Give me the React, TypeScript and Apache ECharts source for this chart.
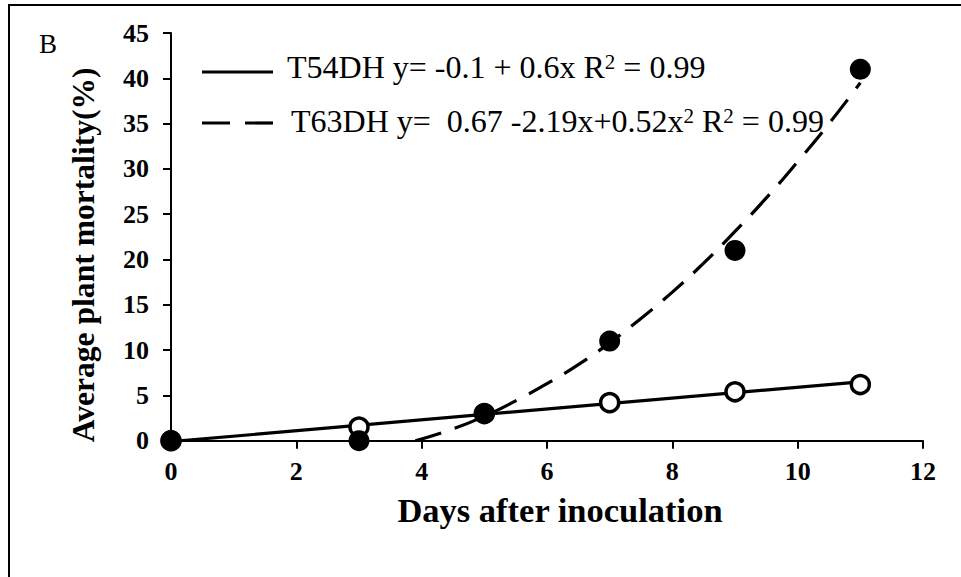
import React, { useEffect, useRef } from "react";
import * as echarts from "echarts";

// ---- data ----
const xTicks = [0, 2, 4, 6, 8, 10, 12];
const yTicks = [0, 5, 10, 15, 20, 25, 30, 35, 40, 45];
const t54Points: [number, number][] = [[0, 0], [3, 1.5], [5, 3], [7, 4.2], [9, 5.4], [11, 6.2]];
const t63Points: [number, number][] = [[0, 0], [3, 0], [5, 3], [7, 11], [9, 21], [11, 41]];
const t54Trend: [number, number][] = [[0, -0.1], [11, 6.5]];
const t63Trend: [number, number][] = [
  [3.9, 0], [4.5, 1.3], [5, 2.7], [5.5, 4.4], [6, 6.3], [6.5, 8.4], [7, 10.8], [7.5, 13.5],
  [8, 16.4], [8.5, 19.6], [9, 23.1], [9.5, 26.8], [10, 30.8], [10.5, 35.0], [11, 39.5],
];
const legendLabels = [
  "{n|T54DH y= -0.1 + 0.6x R}{sup|2}{n| = 0.99}",
  "{n|T63DH y=  0.67 -2.19x+0.52x}{sup|2}{n| R}{sup|2}{n| = 0.99}",
];
const panelLabel = "B";
const xName = "Days after inoculation";
const yName = "Average plant mortality(%)";

const SERIF = "Liberation Serif";

export default function App() {
  const ref = useRef<HTMLDivElement>(null);
  useEffect(() => {
    document.body.style.margin = "0";
    const chart = echarts.init(ref.current!, null, { renderer: "svg" });
    const dash = [27, 14];
    const legendText = (t: string, x: number, y: number) => ({
      type: "text",
      left: x,
      top: y,
      style: {
        text: t,
        fontFamily: SERIF,
        fontSize: 32,
        fill: "#000",
        rich: {
          n: { fontSize: 32, fontFamily: SERIF, fill: "#000" },
          sup: { fontSize: 21, fontFamily: SERIF, verticalAlign: "top", fill: "#000" },
        },
      },
    });
    chart.setOption({
      animation: false,
      backgroundColor: "#fff",
      grid: { left: 171, right: 38, top: 33, bottom: 136.3, containLabel: false },
      xAxis: {
        type: "value",
        min: 0,
        max: 12,
        interval: 2,
        name: xName,
        nameLocation: "middle",
        nameGap: 52,
        nameTextStyle: { fontFamily: SERIF, fontWeight: "bold", fontSize: 34.5, color: "#000", padding: [0, 0, 0, 26], verticalAlign: "top" },
        axisLine: { lineStyle: { color: "#000", width: 2 } },
        axisTick: { show: true, inside: false, length: 8, lineStyle: { color: "#000", width: 2 } },
        axisLabel: { fontFamily: SERIF, fontWeight: "bold", fontSize: 26, color: "#000", margin: 18, formatter: (v: number) => (xTicks.includes(v) ? String(v) : "") },
        splitLine: { show: false },
      },
      yAxis: {
        type: "value",
        min: 0,
        max: 45,
        interval: 5,
        name: yName,
        nameLocation: "middle",
        nameGap: 72,
        nameRotate: 90,
        nameTextStyle: { fontFamily: SERIF, fontWeight: "bold", fontSize: 31.6, color: "#000", padding: [0, 36, 0, 0] },
        axisLine: { show: true, lineStyle: { color: "#000", width: 2 } },
        axisTick: { show: true, inside: false, length: 8, lineStyle: { color: "#000", width: 2 } },
        axisLabel: { fontFamily: SERIF, fontWeight: "bold", fontSize: 26, color: "#000", margin: 22, formatter: (v: number) => (yTicks.includes(v) ? String(v) : "") },
        splitLine: { show: false },
      },
      series: [
        {
          type: "line",
          data: t54Trend,
          symbol: "none",
          lineStyle: { color: "#000", width: 3.2 },
          z: 2,
        },
        {
          type: "line",
          data: t63Trend,
          symbol: "none",
          smooth: true,
          lineStyle: { color: "#000", width: 3.2, type: dash },
          z: 2,
        },
        {
          type: "scatter",
          data: t54Points,
          symbol: "circle",
          symbolSize: 18,
          itemStyle: { color: "#fff", borderColor: "#000", borderWidth: 3.5, opacity: 1 },
          z: 3,
        },
        {
          type: "scatter",
          data: t63Points,
          symbol: "circle",
          symbolSize: 21,
          itemStyle: { color: "#000", borderColor: "#000", borderWidth: 0, opacity: 1 },
          z: 4,
        },
      ],
      graphic: [
        { type: "line", shape: { x1: 8, y1: 5, x2: 961, y2: 5 }, style: { stroke: "#000", lineWidth: 2 } },
        { type: "line", shape: { x1: 9, y1: 5, x2: 9, y2: 577 }, style: { stroke: "#000", lineWidth: 2 } },
        { type: "text", left: 39, top: 30, style: { text: panelLabel, fontFamily: SERIF, fontSize: 27, fill: "#000" } },
        { type: "line", shape: { x1: 202, y1: 72, x2: 273, y2: 72 }, style: { stroke: "#000", lineWidth: 3.2 } },
        { type: "line", shape: { x1: 202, y1: 123, x2: 273, y2: 123 }, style: { stroke: "#000", lineWidth: 3.2, lineDash: [28, 15] } },
        legendText(legendLabels[0], 287, 51),
        legendText(legendLabels[1], 291, 105),
      ],
    });
    return () => chart.dispose();
  }, []);
  return <div ref={ref} style={{ width: 961, height: 577 }} />;
}
